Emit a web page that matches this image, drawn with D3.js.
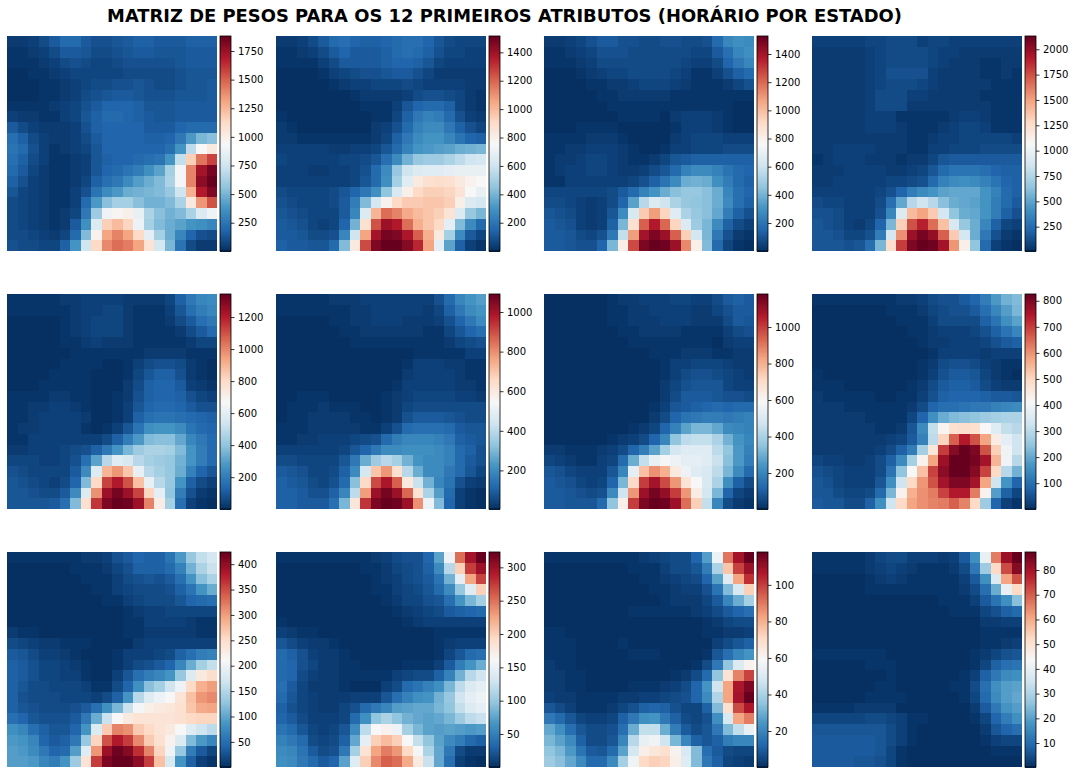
<!DOCTYPE html>
<html>
<head>
<meta charset="utf-8">
<script src="https://cdn.jsdelivr.net/npm/d3@7"></script>
<style>
  html, body { margin: 0; padding: 0; background: white; }
  text { font-family: "DejaVu Sans", sans-serif; }
</style>
</head>
<body>
<div id="graphAll"></div>
<script>
const peso1 = [
  [2,2,3,5,8,11,11,8,6,6,7,8,9,9,8,8,8,9,9,9],
  [1,1,2,3,5,8,8,7,5,5,6,7,8,8,7,7,7,8,8,8],
  [1,1,1,2,3,5,6,5,4,4,5,6,6,6,6,6,7,8,8,8],
  [0,0,1,1,2,3,4,4,4,4,4,5,5,5,5,5,6,7,7,7],
  [0,0,0,1,1,2,3,4,5,5,6,6,7,6,5,5,6,7,7,8],
  [0,0,0,1,1,2,3,5,6,7,8,8,7,6,6,6,7,7,7,8],
  [1,1,1,1,2,3,4,6,8,10,10,10,9,7,7,7,8,8,8,8],
  [3,2,2,1,1,3,4,7,9,11,11,10,9,8,7,7,8,8,8,8],
  [8,5,3,2,2,2,3,6,9,10,10,10,10,8,8,8,10,11,11,11],
  [12,9,5,3,2,2,3,5,8,10,10,10,10,9,9,10,14,21,27,29],
  [13,11,6,3,1,2,3,4,7,10,10,10,10,10,10,12,20,37,50,55],
  [12,9,5,3,1,1,2,3,7,9,10,10,11,12,13,20,38,62,77,84],
  [11,8,4,2,1,1,2,3,7,10,11,13,15,19,23,33,49,75,92,98],
  [9,6,3,2,1,1,2,4,9,12,14,18,22,25,28,34,49,75,95,100],
  [7,4,3,2,1,1,3,6,13,18,21,25,26,27,28,31,40,68,90,97],
  [5,4,3,2,1,1,3,11,21,29,33,33,29,26,26,28,34,55,72,82],
  [5,4,3,2,1,2,4,14,32,48,51,53,46,34,29,26,28,34,43,48],
  [5,4,3,2,1,2,8,19,43,62,66,61,47,33,28,25,23,20,19,17],
  [5,5,4,3,2,4,11,28,52,70,75,70,60,45,33,25,17,10,6,5],
  [6,5,5,4,4,9,20,40,60,74,78,76,70,57,41,27,13,5,2,2]
];
const peso2 = [
  [2,2,3,5,8,11,12,10,9,9,10,11,12,12,10,7,5,4,4,4],
  [1,1,2,3,5,8,10,8,8,8,9,11,12,11,9,6,4,4,3,3],
  [1,1,1,1,3,5,8,8,8,8,9,10,10,9,7,4,3,3,3,3],
  [0,0,0,0,1,3,4,5,6,6,7,8,8,6,4,2,2,2,2,2],
  [0,0,0,0,0,1,2,3,3,4,4,4,5,4,3,3,3,3,2,2],
  [0,0,0,0,0,0,0,1,2,2,2,2,3,5,6,6,5,4,2,1],
  [0,0,0,0,0,0,0,0,1,1,1,3,7,10,11,11,9,4,2,1],
  [1,0,0,0,0,0,0,0,0,1,1,4,9,14,16,15,11,6,3,2],
  [2,1,0,0,0,0,0,0,0,2,3,6,11,16,18,18,14,9,6,4],
  [2,2,1,1,1,1,1,1,1,2,4,9,14,18,20,20,17,13,10,9],
  [3,3,3,3,3,2,2,3,3,4,7,11,16,20,21,22,23,25,26,27],
  [4,3,3,3,3,3,4,4,5,7,12,18,26,31,32,32,34,37,40,41],
  [3,3,3,2,2,3,3,4,6,11,18,31,40,43,44,44,45,46,46,46],
  [3,3,3,3,3,3,3,4,7,11,19,33,44,55,58,59,58,55,52,50],
  [5,4,4,4,4,5,7,10,14,19,30,42,53,60,62,62,61,57,50,46],
  [6,5,4,4,4,5,8,15,28,41,52,60,63,63,64,64,62,53,43,41],
  [7,6,5,4,4,4,8,17,43,67,78,75,69,66,64,62,57,43,31,27],
  [8,7,6,4,3,4,10,26,58,82,93,90,78,68,64,60,45,28,18,11],
  [8,8,7,5,5,6,17,40,70,92,98,97,91,80,68,55,33,18,8,4],
  [9,8,8,7,7,11,28,55,83,97,100,100,96,88,70,45,23,9,3,1]
];
const peso3 = [
  [2,2,3,4,6,8,8,6,6,5,5,6,6,5,5,6,11,17,19,18],
  [1,1,2,3,4,6,6,6,5,5,5,5,5,5,4,4,8,12,17,19],
  [1,1,1,2,3,5,5,5,5,5,5,5,5,4,3,3,5,10,14,17],
  [0,0,0,1,2,3,4,4,5,5,5,5,4,3,1,1,3,6,9,11],
  [0,0,0,0,1,1,2,2,3,4,4,4,3,2,1,1,1,2,4,6],
  [0,0,0,0,0,1,1,2,2,2,2,2,1,1,1,1,1,1,1,1],
  [0,0,0,0,0,0,1,1,1,1,1,1,1,1,1,1,1,1,0,0],
  [0,0,0,0,0,0,0,1,1,1,1,0,2,3,3,3,2,1,0,0],
  [0,0,0,1,1,1,1,0,0,0,0,0,1,3,3,3,2,1,0,0],
  [1,1,1,1,2,2,2,1,0,0,0,0,2,3,4,4,4,3,3,3],
  [1,1,2,2,3,3,3,2,1,0,0,1,3,3,4,4,4,5,5,5],
  [1,2,2,3,4,4,3,2,1,1,2,4,7,8,9,9,9,9,9,9],
  [1,2,3,3,4,4,3,2,2,3,5,7,11,16,18,18,16,13,11,10],
  [1,1,3,3,3,3,3,3,4,6,9,13,18,25,26,25,19,15,11,9],
  [4,4,4,4,4,4,5,8,11,16,20,25,29,31,31,29,25,17,12,10],
  [5,5,4,3,2,3,5,10,23,36,43,40,34,31,30,29,25,18,12,9],
  [7,6,5,3,2,3,7,18,42,63,71,61,44,34,31,29,24,15,9,6],
  [8,7,6,3,2,3,9,27,58,80,90,79,61,43,32,27,18,9,5,3],
  [8,8,7,5,4,6,14,38,71,92,97,93,80,62,41,27,14,6,2,1],
  [8,8,7,6,6,10,27,54,83,97,100,99,93,74,53,28,11,4,1,0]
];
const peso4 = [
  [3,3,3,3,3,4,4,5,5,5,3,4,4,3,3,3,3,3,3,3],
  [2,2,2,2,2,3,4,5,5,5,5,4,3,3,2,2,2,2,2,2],
  [2,2,2,2,2,3,4,5,5,5,5,4,3,2,2,2,1,1,2,2],
  [2,2,2,2,2,3,4,6,6,6,6,3,2,2,2,2,1,1,2,1],
  [2,2,2,2,2,3,4,5,5,5,4,3,2,2,2,2,2,1,1,1],
  [2,2,2,2,2,3,5,5,5,3,3,2,2,2,2,2,1,1,1,1],
  [2,2,2,2,2,3,5,5,5,2,2,2,2,2,2,2,2,1,1,1],
  [2,2,2,2,2,3,3,3,1,1,1,1,1,2,3,3,2,1,1,1],
  [2,2,2,2,2,3,3,3,2,1,1,1,2,3,4,4,3,1,1,1],
  [2,2,2,2,2,2,2,2,2,1,1,2,3,3,4,4,4,4,4,3],
  [2,2,3,3,3,3,2,2,2,1,1,3,3,4,4,4,5,5,5,5],
  [1,2,3,3,3,2,2,2,1,2,2,4,7,8,8,8,8,8,8,8],
  [2,2,2,3,3,3,3,2,2,3,4,7,11,13,13,13,12,10,9,9],
  [2,2,3,3,3,3,3,4,4,5,6,11,16,18,19,18,16,13,10,9],
  [3,3,3,3,3,3,4,6,10,15,18,20,23,24,24,24,20,16,11,9],
  [5,4,4,3,3,3,5,12,24,36,40,36,29,25,24,23,20,15,11,8],
  [6,6,5,3,3,3,6,17,43,66,70,63,41,30,25,24,20,15,9,6],
  [7,6,5,3,2,4,10,27,62,82,89,78,65,42,31,25,17,9,4,3],
  [7,7,6,4,4,6,15,41,73,93,98,94,80,63,41,25,14,6,2,1],
  [7,7,7,6,7,12,27,59,85,97,100,99,92,72,53,30,11,3,1,0]
];
const peso5 = [
  [1,1,1,1,1,2,2,3,3,3,3,2,2,2,2,4,9,14,17,18],
  [1,1,1,1,1,1,2,3,3,4,4,2,1,1,1,3,7,12,15,17],
  [0,0,0,0,0,1,2,3,4,4,4,2,1,1,1,2,5,8,12,14],
  [0,0,0,0,0,1,2,3,4,4,4,2,1,1,1,1,2,5,8,11],
  [0,0,0,0,0,1,1,2,3,2,2,2,1,1,1,1,1,2,4,4],
  [0,0,0,0,0,0,1,1,1,1,1,1,1,2,2,2,2,1,1,1],
  [0,0,0,0,0,1,1,1,1,0,0,1,3,5,6,6,5,2,1,0],
  [0,0,0,0,1,1,1,1,0,0,0,1,4,7,9,9,6,2,1,0],
  [0,0,0,1,1,1,1,1,0,0,0,2,5,9,10,10,8,3,2,1],
  [1,1,1,1,2,2,1,1,0,0,1,2,6,9,10,10,9,6,4,3],
  [1,1,2,2,3,3,2,1,0,0,1,3,7,10,11,11,10,8,6,6],
  [1,1,2,3,3,3,3,2,0,0,1,3,9,12,13,13,12,11,10,9],
  [1,2,2,3,3,3,3,1,0,1,3,7,13,19,20,20,18,13,11,10],
  [1,1,3,3,3,3,3,3,3,5,9,15,21,28,29,29,24,17,14,11],
  [2,2,3,3,3,4,5,6,9,14,20,27,32,34,34,33,28,20,15,11],
  [4,4,4,3,3,4,6,12,23,36,44,42,36,33,32,31,26,20,15,11],
  [6,5,4,4,4,4,8,18,43,67,72,64,46,36,33,31,25,16,10,7],
  [7,6,5,4,3,5,10,28,60,84,90,82,65,46,36,31,20,9,5,3],
  [7,7,6,5,5,8,18,43,73,93,98,93,84,61,45,30,15,6,2,1],
  [7,7,7,7,8,12,28,58,86,97,100,99,93,75,54,33,12,3,1,0]
];
const peso6 = [
  [1,1,1,1,1,2,2,2,3,3,3,3,3,3,3,6,11,17,20,22],
  [1,1,1,1,1,1,1,2,2,3,3,3,3,3,2,4,9,14,18,20],
  [0,0,0,0,0,1,1,2,2,3,3,3,2,2,2,3,6,10,14,18],
  [0,0,0,0,0,0,1,1,2,2,2,2,2,2,1,1,4,7,10,12],
  [0,0,0,0,0,0,0,1,1,1,1,1,1,1,1,1,2,4,5,6],
  [0,0,0,0,0,0,0,0,0,0,0,0,0,1,1,1,1,1,3,3],
  [0,0,0,0,0,0,0,0,0,0,0,0,1,3,3,3,2,2,1,1],
  [0,0,0,0,0,0,0,0,0,0,0,0,2,3,3,3,3,2,1,1],
  [0,0,0,0,0,0,0,0,0,0,0,1,3,3,3,3,3,2,2,1],
  [0,0,1,1,1,0,0,0,0,0,1,2,3,4,4,4,4,3,3,2],
  [0,1,1,1,2,1,1,1,0,0,1,2,4,5,5,5,5,5,5,5],
  [0,1,1,2,2,2,2,1,1,0,1,2,6,8,8,8,7,6,5,5],
  [1,1,1,2,2,2,2,2,1,1,3,6,11,12,12,12,11,8,7,7],
  [1,1,2,2,3,3,3,4,5,6,11,15,17,17,17,16,14,9,8,7],
  [3,3,3,3,3,3,4,7,10,14,18,18,19,19,19,18,16,11,9,6],
  [5,5,4,4,4,4,7,14,25,32,36,33,26,20,18,18,16,11,8,6],
  [8,7,6,4,4,5,9,18,41,64,72,58,36,25,18,18,14,11,7,4],
  [9,8,7,5,4,6,11,29,60,83,91,80,55,39,26,17,13,6,3,2],
  [9,9,8,6,6,9,17,37,71,93,98,93,79,57,34,22,11,3,1,0],
  [9,9,8,8,8,12,27,56,86,97,100,99,93,73,47,28,10,3,1,0]
];
const peso7 = [
  [0,0,0,0,0,0,1,2,2,3,3,3,4,4,3,3,5,8,9,8],
  [0,0,0,0,0,0,1,1,2,2,3,3,3,3,2,2,4,6,8,8],
  [0,0,0,0,0,0,1,1,2,2,2,3,3,3,2,2,2,5,8,7],
  [0,0,0,0,0,0,0,1,1,2,2,2,2,1,1,1,1,3,5,6],
  [0,0,0,0,0,0,0,0,1,1,1,1,1,1,1,1,0,2,3,3],
  [0,0,0,0,0,0,0,0,0,0,1,1,1,2,2,2,1,1,2,2],
  [0,0,0,0,0,0,0,0,0,0,0,1,3,3,4,4,4,3,2,2],
  [0,0,0,0,0,0,0,0,0,0,0,1,3,5,6,6,5,4,3,2],
  [0,0,0,0,0,0,0,0,0,0,0,2,4,6,7,7,7,4,3,3],
  [0,0,0,0,0,0,0,0,0,0,0,2,5,8,8,8,7,6,6,5],
  [0,0,0,0,0,0,0,0,0,0,1,3,7,8,9,10,11,10,11,11],
  [0,0,0,0,0,0,0,0,0,0,2,5,10,13,14,15,15,14,15,16],
  [0,0,0,0,0,0,0,0,1,2,4,10,16,23,27,27,24,18,17,16],
  [0,0,0,0,0,0,1,2,3,5,10,17,30,37,38,38,34,26,20,17],
  [2,2,1,1,1,2,3,5,10,15,23,33,41,44,44,44,37,30,21,16],
  [4,3,2,1,1,3,4,11,25,38,46,49,47,45,45,44,39,29,21,15],
  [7,6,4,3,3,3,7,17,45,65,73,68,55,47,44,42,37,27,18,11],
  [8,7,6,4,3,4,10,27,60,85,92,83,72,57,50,42,34,19,9,5],
  [8,8,7,6,5,6,18,40,72,93,98,94,85,72,54,41,27,10,4,2],
  [8,8,7,7,7,11,30,53,85,97,100,99,93,78,62,38,17,5,2,1]
];
const peso8 = [
  [1,1,1,1,1,1,1,1,2,2,3,5,6,6,8,10,15,21,26,28],
  [0,0,0,0,0,0,0,1,1,1,2,4,5,6,6,8,12,17,22,27],
  [0,0,0,0,0,0,0,0,1,1,1,3,5,5,5,5,9,13,19,23],
  [0,0,0,0,0,0,0,0,0,1,1,2,3,3,3,4,6,9,13,17],
  [0,0,0,0,0,0,0,0,0,0,1,2,2,3,3,3,4,6,8,9],
  [0,0,0,0,0,0,0,0,0,0,0,1,3,3,3,3,2,3,3,3],
  [0,0,0,0,0,0,0,0,0,0,1,2,5,6,6,5,3,2,1,1],
  [1,0,0,0,0,0,0,0,0,0,1,3,6,8,8,7,4,2,1,0],
  [1,1,1,0,0,0,0,0,0,1,2,5,8,9,9,8,5,3,2,2],
  [2,1,1,1,1,1,0,0,1,1,3,6,9,10,10,10,9,8,8,7],
  [2,2,2,1,1,1,1,1,1,2,5,10,12,12,13,14,14,16,17,18],
  [2,2,2,2,2,1,1,1,1,4,10,19,25,28,29,30,32,33,34,34],
  [2,2,2,2,2,2,1,1,2,7,18,38,51,58,59,58,50,44,38,36],
  [2,2,2,2,2,2,2,3,4,8,16,37,61,80,90,82,70,54,45,40],
  [2,2,2,2,2,2,3,5,9,15,33,56,85,96,100,97,82,62,48,40],
  [4,3,3,2,2,3,5,9,18,33,52,70,93,100,100,98,92,67,48,36],
  [6,5,4,3,3,3,5,13,30,50,65,84,95,100,100,96,84,60,36,26],
  [7,6,4,3,3,3,7,19,40,60,72,82,92,97,97,92,70,40,20,10],
  [7,7,5,4,4,5,11,27,52,68,73,76,84,90,90,76,52,22,9,4],
  [8,7,7,5,5,9,19,40,60,70,73,75,76,80,75,60,32,10,3,1]
];
const peso9 = [
  [1,1,1,1,1,1,1,2,2,3,6,8,10,9,9,13,21,31,38,41],
  [0,0,0,0,0,0,1,1,1,2,4,6,9,9,9,11,16,26,34,39],
  [0,0,0,0,0,0,0,1,1,1,3,5,6,7,6,8,12,20,29,34],
  [0,0,0,0,0,0,0,0,1,1,3,4,5,5,5,6,9,13,20,25],
  [0,0,0,0,0,0,0,0,0,1,1,3,4,5,5,5,7,10,11,12],
  [0,0,0,0,0,0,0,0,0,0,0,1,2,3,3,4,4,4,4,4],
  [0,0,0,0,0,0,0,0,0,0,0,1,1,3,3,3,3,2,1,1],
  [2,1,1,0,0,0,0,0,0,0,0,1,1,2,2,2,2,2,1,1],
  [5,4,3,2,2,1,1,1,0,0,0,0,2,3,3,3,3,3,3,3],
  [8,7,5,3,3,2,1,0,0,0,1,3,3,3,4,5,9,12,15,16],
  [9,8,6,4,4,3,2,1,0,0,1,3,5,6,8,10,17,25,33,38],
  [9,8,6,4,4,3,3,1,0,0,3,7,12,15,17,20,31,43,55,59],
  [9,7,5,5,4,4,4,3,1,1,5,10,19,29,33,40,47,60,68,71],
  [9,6,5,5,5,4,4,4,3,5,9,20,36,44,47,50,57,65,72,74],
  [9,7,6,5,5,5,6,8,12,19,27,39,49,53,55,56,58,64,69,70],
  [12,10,7,6,6,6,8,14,25,39,50,55,57,57,57,57,58,60,61,61],
  [19,17,12,9,7,7,10,20,43,63,75,73,63,60,57,55,50,44,40,37],
  [21,20,17,10,8,9,14,31,61,82,90,85,74,63,58,52,43,28,21,17],
  [22,21,18,14,10,11,22,44,72,93,99,96,87,75,61,48,31,15,8,4],
  [22,22,21,17,15,20,32,57,85,97,100,100,95,85,65,42,20,9,3,1]
];
const peso10 = [
  [1,1,1,1,1,1,1,1,1,2,3,5,6,6,10,23,48,78,92,100],
  [0,0,0,0,0,0,0,0,1,1,2,4,5,6,9,18,36,62,85,93],
  [0,0,0,0,0,0,0,0,0,1,2,3,5,6,8,13,26,45,70,84],
  [0,0,0,0,0,0,0,0,0,1,1,3,4,5,7,11,18,31,44,62],
  [0,0,0,0,0,0,0,0,0,0,1,2,4,4,6,7,12,20,27,33],
  [0,0,0,0,0,0,0,0,0,0,0,1,2,3,4,5,8,9,10,11],
  [1,0,0,0,0,0,0,0,0,0,0,0,1,2,3,3,3,3,3,3],
  [3,2,1,1,0,0,0,0,0,0,0,0,0,0,0,1,1,1,1,1],
  [7,5,3,2,2,1,0,0,0,0,0,0,0,0,0,1,2,3,3,3],
  [11,9,6,3,2,2,1,0,0,0,0,0,0,0,0,1,4,7,11,12],
  [11,10,6,4,2,2,1,1,0,0,0,0,1,1,1,3,8,15,20,25],
  [11,10,5,3,2,2,1,1,1,1,1,3,4,5,5,9,16,26,36,40],
  [12,8,4,2,2,2,1,0,0,0,3,5,11,13,16,19,27,37,43,45],
  [11,7,4,3,2,2,2,3,3,3,7,12,16,19,20,26,31,40,45,47],
  [9,6,4,3,2,2,4,6,11,14,17,22,23,24,24,27,30,38,43,45],
  [10,8,5,3,3,3,4,11,19,30,34,30,26,24,23,24,27,32,37,39],
  [13,11,7,4,3,4,7,18,37,50,52,47,33,27,23,22,23,22,21,22],
  [16,14,11,5,4,5,9,24,45,62,66,62,50,38,30,23,18,15,11,9],
  [18,17,13,8,5,6,14,33,57,70,76,72,60,49,34,24,14,5,2,2],
  [19,18,14,11,8,10,23,44,62,74,80,78,69,55,39,24,12,3,1,0]
];
const peso11 = [
  [1,1,1,1,1,1,1,1,1,2,3,4,5,5,10,22,47,77,92,100],
  [0,0,0,0,0,0,0,0,1,1,1,3,5,5,7,15,34,64,84,93],
  [0,0,0,0,0,0,0,0,0,1,1,2,3,4,5,10,23,44,70,87],
  [0,0,0,0,0,0,0,0,0,0,1,1,2,3,3,6,13,28,42,62],
  [0,0,0,0,0,0,0,0,0,0,0,1,2,2,2,4,8,17,25,33],
  [0,0,0,0,0,0,0,0,1,1,1,1,1,1,2,3,5,8,10,12],
  [0,0,0,0,0,0,0,0,0,0,0,0,0,0,0,1,2,4,5,5],
  [1,1,0,0,0,0,0,0,0,0,0,0,0,0,0,1,1,2,2,3],
  [1,1,1,0,0,0,0,1,0,0,0,0,0,0,0,0,3,5,7,9],
  [1,1,1,0,0,0,0,0,1,1,1,0,0,0,0,1,7,12,17,20],
  [2,1,1,0,0,0,0,0,0,0,0,0,0,0,1,5,14,30,43,52],
  [2,2,1,1,0,0,0,0,0,0,0,0,1,2,5,11,30,57,75,84],
  [2,2,1,1,0,0,0,0,1,1,1,2,3,5,10,20,40,70,91,97],
  [3,2,2,1,1,1,1,2,2,3,3,4,5,6,10,18,35,70,92,100],
  [7,5,3,1,1,1,2,4,6,9,10,9,6,4,4,9,28,58,83,91],
  [14,11,7,4,3,3,4,9,14,19,20,14,9,5,4,6,19,42,70,76],
  [24,19,12,7,5,5,6,12,25,38,38,25,15,8,5,7,14,28,38,46],
  [27,23,18,9,5,5,7,17,36,46,48,40,27,17,9,7,9,15,17,17],
  [30,27,21,13,8,7,11,23,41,53,56,58,52,42,28,12,8,5,4,4],
  [32,29,24,18,11,11,18,33,48,60,62,61,53,44,28,14,9,4,3,2]
];
const peso12 = [
  [1,1,1,1,1,2,4,5,5,3,3,3,2,3,8,19,46,76,93,100],
  [1,1,1,1,1,2,3,4,3,2,1,1,1,2,5,14,32,60,83,96],
  [0,0,0,0,0,1,2,3,2,1,1,1,1,1,3,8,19,43,70,82],
  [0,0,0,0,0,1,1,1,1,1,1,1,1,1,2,5,12,25,46,60],
  [0,0,0,0,0,0,0,0,0,0,0,0,1,1,1,3,8,13,19,29],
  [0,0,0,0,0,0,0,0,0,0,0,0,0,1,1,1,4,6,9,11],
  [0,0,0,0,0,0,0,0,0,0,0,0,0,0,0,0,2,2,3,3],
  [0,0,0,0,0,0,0,0,0,0,0,0,0,0,0,0,1,1,1,1],
  [0,0,0,0,0,0,0,0,0,0,0,0,0,0,0,0,1,1,2,3],
  [1,1,1,1,1,1,1,0,0,0,0,0,0,0,0,1,2,4,6,7],
  [0,0,0,0,0,1,1,1,0,0,0,0,0,0,0,1,4,9,12,13],
  [0,0,0,0,0,0,0,1,0,0,0,0,0,0,1,3,9,14,18,19],
  [0,0,0,0,0,0,1,1,0,0,0,0,0,1,1,5,12,19,22,23],
  [0,0,0,0,0,1,1,1,1,0,0,0,0,0,1,4,11,18,22,24],
  [1,1,1,1,2,2,2,2,0,0,0,0,0,0,0,2,8,14,20,22],
  [4,4,4,4,4,5,5,4,3,1,1,0,0,0,0,1,4,10,15,19],
  [7,7,7,7,7,7,7,5,3,1,0,0,0,0,0,0,2,7,10,12],
  [8,8,8,8,8,8,7,5,3,1,0,0,0,0,0,0,1,3,4,4],
  [8,8,8,8,8,8,7,4,1,0,0,0,0,0,0,0,0,1,1,1],
  [8,8,8,8,7,7,6,4,1,0,0,0,0,0,0,0,0,0,0,0]
];
const pesos = [peso1, peso2, peso3, peso4, peso5, peso6, peso7, peso8, peso9, peso10, peso11, peso12];

// colour bar limits and ticks of each map
const barMin = [3, 1, 1, 10, 1, 5, 3, 1, 0.5, 0.5, 0.3, 0.3];
const barMax = [1881, 1515, 1528, 2131, 1344, 1091, 1181, 826, 424, 323, 118, 87.3];
const barTicks = [
  [250, 500, 750, 1000, 1250, 1500, 1750],
  [200, 400, 600, 800, 1000, 1200, 1400],
  [200, 400, 600, 800, 1000, 1200, 1400],
  [250, 500, 750, 1000, 1250, 1500, 1750, 2000],
  [200, 400, 600, 800, 1000, 1200],
  [200, 400, 600, 800, 1000],
  [200, 400, 600, 800, 1000],
  [100, 200, 300, 400, 500, 600, 700, 800],
  [50, 100, 150, 200, 250, 300, 350, 400],
  [50, 100, 150, 200, 250, 300],
  [20, 40, 60, 80, 100],
  [10, 20, 30, 40, 50, 60, 70, 80]
];

// RdBu_r stops
const rdBu = ["#053061", "#2166ac", "#4393c3", "#92c5de", "#d1e5f0", "#f7f7f7",
              "#fddbc7", "#f4a582", "#d6604d", "#b2182b", "#67001f"];

const title = "MATRIZ DE PESOS PARA OS 12 PRIMEIROS ATRIBUTOS (HORÁRIO POR ESTADO)";

const width = 1075, height = 774;
const colLeft = [7, 276, 544, 812];
const rowTop = [36, 294, 552];
const mapW = 210, mapH = 215, barGap = 3, barW = 11;

const svg = d3.select("#graphAll")
  .append("svg")
    .attr("width", width)
    .attr("height", height)
    .style("display", "block");

svg.append("text")
  .attr("x", 504.5)
  .attr("y", 22)
  .attr("text-anchor", "middle")
  .style("font-size", "17.9px")
  .style("font-weight", "bold")
  .text(title);

const cellIdx = d3.range(20);

pesos.forEach((levels, k) => {
  const lo = barMin[k], hi = barMax[k];
  const values = levels.map(row => row.map(v => lo + v / 100 * (hi - lo)));

  // colour scale: one stop every tenth of the bar
  const color = d3.scaleLinear()
    .domain(rdBu.map((c, i) => lo + i / 10 * (hi - lo)))
    .range(rdBu);

  const g = svg.append("g")
    .attr("transform", `translate(${colLeft[k % 4]},${rowTop[Math.floor(k / 4)]})`);

  const x = d3.scaleBand().domain(cellIdx).range([0, mapW]);
  const y = d3.scaleBand().domain(cellIdx).range([0, mapH]);

  g.selectAll("g.row")
    .data(values)
    .enter()
    .append("g")
      .attr("class", "row")
    .selectAll("rect")
    .data((d, i) => d.map(v => ({ v, i })))
    .enter()
    .append("rect")
      .attr("x", (d, j) => x(j))
      .attr("y", d => y(d.i))
      .attr("width", x.bandwidth())
      .attr("height", y.bandwidth())
      .attr("shape-rendering", "crispEdges")
      .attr("fill", d => color(d.v));

  // colour bar
  const bar = g.append("g").attr("transform", `translate(${mapW + barGap},0)`);
  const barY = d3.scaleLinear().domain([lo, hi]).range([mapH, 0]);
  const steps = d3.range(256).map(i => lo + (i + 0.5) / 256 * (hi - lo));

  bar.selectAll("rect")
    .data(steps)
    .enter()
    .append("rect")
      .attr("x", 0)
      .attr("y", d => barY(d) - mapH / 512)
      .attr("width", barW)
      .attr("height", mapH / 256 + 0.5)
      .attr("shape-rendering", "crispEdges")
      .attr("fill", d => color(d));

  const axis = bar.append("g")
    .attr("transform", `translate(${barW},0)`)
    .call(d3.axisRight(barY).tickValues(barTicks[k]).tickSize(3.5).tickPadding(3.5).tickFormat(d3.format("d")));
  axis.select(".domain").remove();
  axis.selectAll("text").style("font-size", "10px").style("font-family", '"DejaVu Sans"').attr("fill", "black");
  axis.selectAll("line").attr("stroke", "black").attr("stroke-width", 0.8);

  bar.append("rect")
    .attr("width", barW)
    .attr("height", mapH)
    .attr("fill", "none")
    .attr("stroke", "black")
    .attr("stroke-width", 0.8);
});
</script>
</body>
</html>
